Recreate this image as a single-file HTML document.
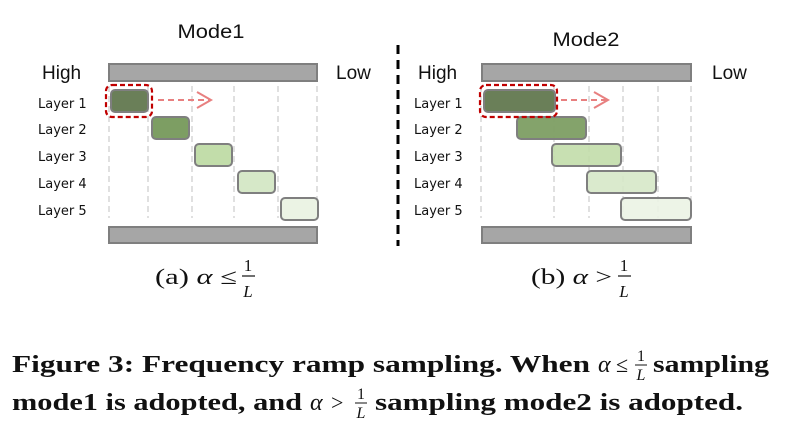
<!DOCTYPE html>
<html><head><meta charset="utf-8"><style>
html,body{margin:0;padding:0;background:#fff;}
svg{display:block}
.lay{font-family:"Comic Sans MS","DejaVu Sans",sans-serif;font-size:13px;fill:#111}
.hl{font-family:"Liberation Sans",sans-serif;font-size:19px;fill:#111}
.sub{font-family:"Liberation Serif",serif;fill:#111}
.cap{font-family:"Liberation Serif",serif;font-weight:bold;fill:#111}
</style></head><body>
<svg width="789" height="433" viewBox="0 0 789 433" xmlns="http://www.w3.org/2000/svg">
<text x="211" y="38" class="hl" text-anchor="middle" textLength="67" lengthAdjust="spacingAndGlyphs">Mode1</text>
<text x="586" y="46" class="hl" text-anchor="middle" textLength="67" lengthAdjust="spacingAndGlyphs">Mode2</text>
<line x1="398" y1="45" x2="398" y2="246" stroke="#000" stroke-width="3" stroke-dasharray="9,6"/>

<!-- Left panel -->
<text x="42" y="79" class="hl">High</text>
<text x="336" y="79" class="hl">Low</text>
<g stroke="#ccc" stroke-width="1.2" stroke-dasharray="6,4">
<line x1="109" y1="86" x2="109" y2="218"/><line x1="148" y1="86" x2="148" y2="218"/><line x1="192" y1="86" x2="192" y2="218"/><line x1="234" y1="86" x2="234" y2="218"/><line x1="278" y1="86" x2="278" y2="218"/><line x1="317" y1="86" x2="317" y2="218"/>
</g>
<rect x="109" y="64" width="208" height="17" fill="#a6a6a6" stroke="#7f7f7f" stroke-width="2"/>
<rect x="109" y="227" width="208" height="16" fill="#a6a6a6" stroke="#7f7f7f" stroke-width="2"/>
<g stroke="#7f7f7f" stroke-width="2">
<rect x="111" y="90" width="37" height="22" rx="4" fill="#6a7f58"/>
<rect x="152" y="117" width="37" height="22" rx="4" fill="#7d9e63"/>
<rect x="195" y="144" width="37" height="22" rx="4" fill="#c2ddaa"/>
<rect x="238" y="171" width="37" height="22" rx="4" fill="#d6e8c8"/>
<rect x="281" y="198" width="37" height="22" rx="4" fill="#ebf3e4"/>
</g>
<rect x="106" y="85" width="46" height="32" rx="6" fill="none" stroke="#c00000" stroke-width="2.2" stroke-dasharray="5,3"/>
<line x1="158" y1="100" x2="210" y2="100" stroke="#e88080" stroke-width="2" stroke-dasharray="6,4"/>
<polyline points="197,92 211,100 197,108" fill="none" stroke="#e88080" stroke-width="2"/>
<text x="38" y="108" class="lay">Layer 1</text>
<text x="38" y="134" class="lay">Layer 2</text>
<text x="38" y="161" class="lay">Layer 3</text>
<text x="38" y="188" class="lay">Layer 4</text>
<text x="38" y="215" class="lay">Layer 5</text>

<!-- Right panel -->
<text x="418" y="79" class="hl">High</text>
<text x="712" y="79" class="hl">Low</text>
<g stroke="#ccc" stroke-width="1.2" stroke-dasharray="6,4">
<line x1="481" y1="86" x2="481" y2="218"/><line x1="554" y1="86" x2="554" y2="218"/><line x1="589" y1="86" x2="589" y2="218"/><line x1="623" y1="86" x2="623" y2="218"/><line x1="658" y1="86" x2="658" y2="218"/><line x1="691" y1="86" x2="691" y2="218"/>
</g>
<rect x="482" y="64" width="209" height="17" fill="#a6a6a6" stroke="#7f7f7f" stroke-width="2"/>
<rect x="482" y="227" width="209" height="16" fill="#a6a6a6" stroke="#7f7f7f" stroke-width="2"/>
<g stroke="#7f7f7f" stroke-width="2">
<rect x="484" y="90" width="71" height="22" rx="4" fill="#6a7f58"/>
<rect x="517" y="117" width="69" height="22" rx="4" fill="#7d9e63" fill-opacity="0.95"/>
<rect x="552" y="144" width="69" height="22" rx="4" fill="#c2ddaa" fill-opacity="0.9"/>
<rect x="587" y="171" width="69" height="22" rx="4" fill="#d6e8c8" fill-opacity="0.9"/>
<rect x="621" y="198" width="70" height="22" rx="4" fill="#ebf3e4" fill-opacity="0.9"/>
</g>
<rect x="480" y="85" width="77" height="32" rx="6" fill="none" stroke="#c00000" stroke-width="2.2" stroke-dasharray="5,3"/>
<line x1="561" y1="100" x2="606" y2="100" stroke="#e88080" stroke-width="2" stroke-dasharray="6,4"/>
<polyline points="594,92 608,100 594,108" fill="none" stroke="#e88080" stroke-width="2"/>
<text x="414" y="108" class="lay">Layer 1</text>
<text x="414" y="134" class="lay">Layer 2</text>
<text x="414" y="161" class="lay">Layer 3</text>
<text x="414" y="188" class="lay">Layer 4</text>
<text x="414" y="215" class="lay">Layer 5</text>

<!-- sub captions -->
<text x="155" y="284" class="sub" style="font-size:22px" textLength="82" lengthAdjust="spacingAndGlyphs">(a) <tspan font-style="italic">α</tspan> ≤</text>
<text x="248" y="271" class="sub" style="font-size:17px" text-anchor="middle">1</text>
<line x1="242" y1="276" x2="255" y2="276" stroke="#111" stroke-width="1.2"/>
<text x="248" y="297" class="sub" style="font-size:17px;font-style:italic" text-anchor="middle">L</text>

<text x="531" y="284" class="sub" style="font-size:22px" textLength="81" lengthAdjust="spacingAndGlyphs">(b) <tspan font-style="italic">α</tspan> &gt;</text>
<text x="624" y="271" class="sub" style="font-size:17px" text-anchor="middle">1</text>
<line x1="618" y1="276" x2="631" y2="276" stroke="#111" stroke-width="1.2"/>
<text x="624" y="297" class="sub" style="font-size:17px;font-style:italic" text-anchor="middle">L</text>

<!-- figure caption -->
<text x="12" y="372" class="cap" style="font-size:24px" textLength="578" lengthAdjust="spacingAndGlyphs">Figure 3: Frequency ramp sampling. When</text>
<text x="598" y="372" class="cap" style="font-size:24px;font-style:italic;font-weight:normal">α</text>
<text x="616" y="372" class="cap" style="font-size:22px;font-weight:normal">≤</text>
<text x="641" y="361" class="cap" style="font-size:16px;font-weight:normal" text-anchor="middle">1</text>
<line x1="635" y1="365" x2="647" y2="365" stroke="#111" stroke-width="1"/>
<text x="641" y="380" class="cap" style="font-size:16px;font-style:italic;font-weight:normal" text-anchor="middle">L</text>
<text x="653" y="372" class="cap" style="font-size:24px" textLength="116" lengthAdjust="spacingAndGlyphs">sampling</text>

<text x="12" y="410" class="cap" style="font-size:24px" textLength="290" lengthAdjust="spacingAndGlyphs">mode1 is adopted, and</text>
<text x="310" y="410" class="cap" style="font-size:24px;font-style:italic;font-weight:normal">α</text>
<text x="331" y="410" class="cap" style="font-size:22px;font-weight:normal">&gt;</text>
<text x="361" y="399" class="cap" style="font-size:16px;font-weight:normal" text-anchor="middle">1</text>
<line x1="355" y1="403" x2="367" y2="403" stroke="#111" stroke-width="1"/>
<text x="361" y="418" class="cap" style="font-size:16px;font-style:italic;font-weight:normal" text-anchor="middle">L</text>
<text x="375" y="410" class="cap" style="font-size:24px" textLength="368" lengthAdjust="spacingAndGlyphs">sampling mode2 is adopted.</text>
</svg>
</body></html>
